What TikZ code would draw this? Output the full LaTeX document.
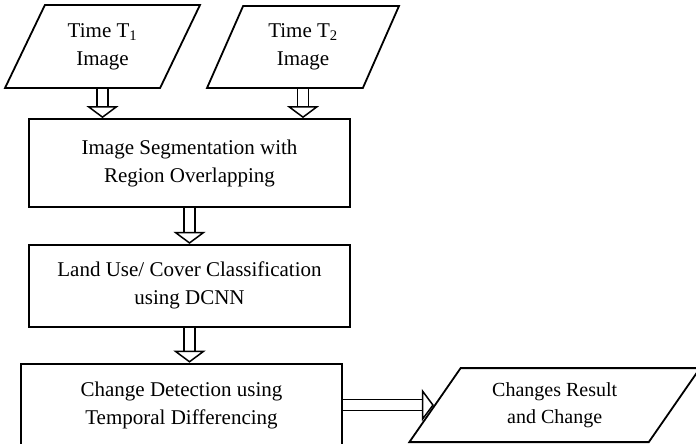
\documentclass[tikz,border=0pt]{standalone}
\usepackage{fontspec}
\setmainfont{Liberation Serif}
\usepackage{tikz}
\usetikzlibrary{positioning,shapes.geometric,arrows.meta}
\tikzstyle{proc}  = [rectangle, draw, line width=1.8pt, minimum width=321pt,
                     align=center, inner sep=0pt]
\tikzstyle{io}    = [trapezium, trapezium stretches=true, draw, line width=1.8pt,
                     align=center, inner sep=0pt]
\tikzstyle{hollow} = [draw, line width=1.5pt, double, double distance=9.5pt,
                     -{Triangle[open, length=12pt, width=32pt]}]
\newcommand{\txt}{\fontsize{21}{28}\selectfont}

\begin{document}
\begin{tikzpicture}[font=\txt]
		\useasboundingbox (0,0) rectangle (696pt,-444pt);
		\node[proc, minimum height=88pt] (seg) at (189.5pt,-163pt)
			{Image Segmentation with\\Region Overlapping};
		\node[proc, minimum height=82pt, below=36pt of seg] (cls)
			{Land Use/ Cover Classification\\using DCNN};
		\node[proc, minimum height=83pt, below=35pt of cls, xshift=-8pt] (det)
			{Change Detection using\\Temporal Differencing};
		\node[io, trapezium left angle=62.6, trapezium right angle=117.4,
			minimum width=195pt, minimum height=83pt] (t1) at (102.5pt,-46.5pt)
			{Time T\textsubscript{1}\\Image};
		\node[io, trapezium left angle=65.7, trapezium right angle=114.3,
			minimum width=192pt, minimum height=82pt] (t2) at (303pt,-47pt)
			{Time T\textsubscript{2}\\Image};
		\node[io, trapezium left angle=53, trapezium right angle=127,
			minimum width=291pt, minimum height=74pt, right=91pt of det,
			font=\fontsize{20}{27}\selectfont] (res)
			{Changes Result\\and Change};

		\draw[hollow] (t1.south) -- (t1.south |- seg.north);
		\draw[hollow] (t2.south) -- (t2.south |- seg.north);
		\draw[hollow] (seg.south) -- (seg.south |- cls.north);
		\draw[hollow] (cls.south) -- (cls.south |- det.north);
		\draw[hollow] (det.east) -- (res.west);
	\end{tikzpicture}
\end{document}
